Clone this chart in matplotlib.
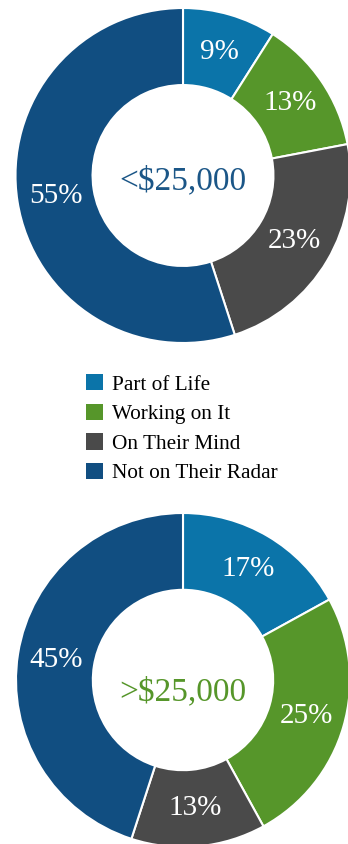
import matplotlib
matplotlib.use("Agg")
import matplotlib.pyplot as plt
from matplotlib.patches import Patch

plt.rcParams['font.family'] = ['Liberation Serif', 'DejaVu Serif']

# Data
categories = ['Part of Life', 'Working on It', 'On Their Mind', 'Not on Their Radar']
colors = ['#0b74a9', '#56962a', '#4a4a4a', '#114e81']
low_income = [9, 13, 23, 55]
high_income = [17, 25, 13, 45]
low_title = '<$25,000'
high_title = '>$25,000'

W, H = 348, 844
fig = plt.figure(figsize=(W / 100, H / 100), dpi=100)


def donut(cx, cy, r, values, title, title_color, title_dy):
    # axes placed in pixel coords (y from top)
    ax = fig.add_axes([(cx - r) / W, (H - cy - r) / H, 2 * r / W, 2 * r / H])
    ax.pie(values, colors=colors, startangle=90, counterclock=False, radius=1,
           wedgeprops=dict(width=0.46, edgecolor='white', linewidth=1.5),
           labels=[f'{v}%' for v in values], labeldistance=0.77,
           textprops=dict(color='white', fontsize=21, ha='center', va='center'))
    ax.text(0, -title_dy / r, title, color=title_color, fontsize=24,
            ha='center', va='center_baseline')
    ax.set_xlim(-1, 1)
    ax.set_ylim(-1, 1)
    ax.set_aspect('equal')
    ax.axis('off')
    return ax


donut(183, 175.5, 167.5, low_income, low_title, '#1b5687', 2)
donut(183, 680, 167, high_income, high_title, '#56962a', 9)

handles = [Patch(facecolor=c, edgecolor='none') for c in colors]
fig.legend(handles, categories, loc='upper left', bbox_to_anchor=(86 / W, 1 - 374 / H),
           frameon=False, fontsize=15.3, handlelength=0.8, handleheight=0.8,
           handletextpad=0.4, labelspacing=0.43, borderpad=0, borderaxespad=0)

fig.savefig('out.png', dpi=100)
